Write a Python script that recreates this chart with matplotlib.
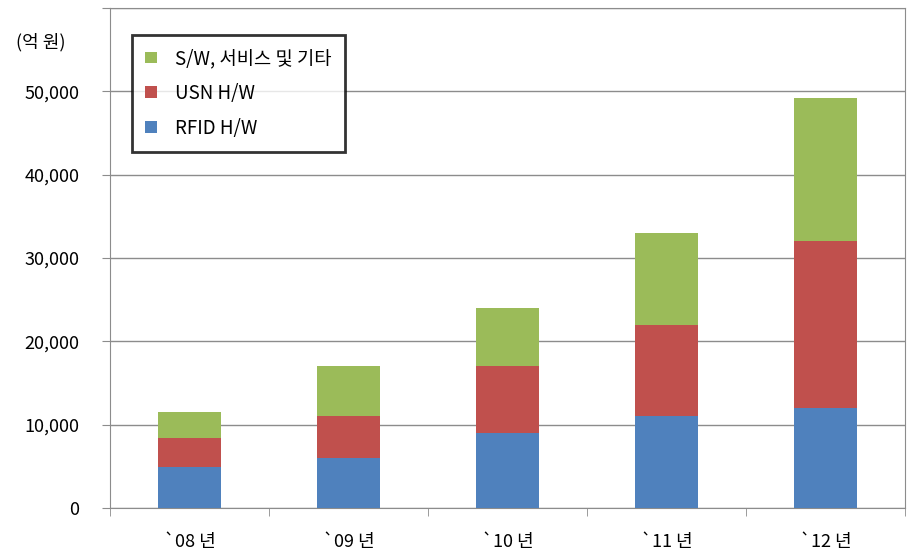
import numpy as np
import matplotlib
matplotlib.use('Agg')
import matplotlib.pyplot as plt
from matplotlib.ticker import FuncFormatter

plt.rcParams['font.family'] = ['Noto Sans CJK KR', 'DejaVu Sans']

# data (억 원)
years = ['`08 년', '`09 년', '`10 년', '`11 년', '`12 년']
rfid_hw = [4900, 6000, 9000, 11000, 12000]
usn_hw = [3500, 5000, 8000, 11000, 20000]
sw_etc = [3100, 6000, 7000, 11000, 17200]

labels = ['RFID H/W', 'USN H/W', 'S/W, 서비스 및 기타']
colors = ['#4f81bd', '#c0504d', '#9bbb59']

fig = plt.figure(figsize=(9.15, 5.54), dpi=100)
ax = fig.add_axes([0.1202, 0.083, 0.869, 0.9026])

x = np.arange(len(years))
bottom = np.zeros(len(years))
handles = []
for vals, lab, col in zip([rfid_hw, usn_hw, sw_etc], labels, colors):
    b = ax.bar(x, vals, width=0.4, bottom=bottom, color=col, label=lab, zorder=3)
    handles.append(b)
    bottom += np.array(vals)

ax.set_xlim(-0.5, len(years) - 0.5)
ax.set_ylim(0, 60000)
ax.set_yticks(np.arange(0, 60001, 10000))
ax.yaxis.set_major_formatter(FuncFormatter(
    lambda v, p: '' if v >= 60000 else f'{int(v):,}'))
ax.grid(axis='y', color='#8c8c8c', linewidth=1, zorder=0)

ax.set_xticks(x)
ax.set_xticklabels(years, fontsize=13)
ax.set_xticks(np.arange(-0.5, len(years)), minor=True)
ax.tick_params(axis='x', which='major', length=0, pad=18)
ax.tick_params(axis='x', which='minor', length=6, color='#8c8c8c', direction='out')
ax.tick_params(axis='y', length=6, color='#8c8c8c', pad=16, labelsize=13)

for s in ['left', 'bottom', 'right', 'top']:
    ax.spines[s].set_color('#8c8c8c')

fig.text(0.018, 0.924, '(억 원)', fontsize=13, va='center', ha='left')

leg = ax.legend(handles[::-1], labels[::-1], loc='upper left',
                bbox_to_anchor=(0.028, 0.946), borderaxespad=0, fontsize=13.5,
                frameon=True, fancybox=False, edgecolor='black',
                handlelength=0.6, handleheight=0.6, handletextpad=1.0,
                labelspacing=0.74, borderpad=0.7)
leg.get_frame().set_linewidth(2)

fig.savefig('out.png', dpi=100)
